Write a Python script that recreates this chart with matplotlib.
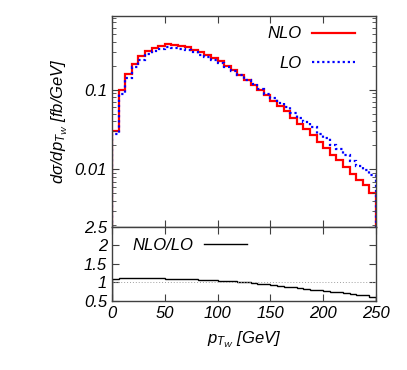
import matplotlib
matplotlib.use("Agg")
import matplotlib.pyplot as plt
import numpy as np
from matplotlib.ticker import LogLocator, NullFormatter

plt.rcParams['font.family'] = ['Liberation Sans', 'DejaVu Sans']
plt.rcParams['font.style'] = 'italic'
plt.rcParams['mathtext.fontset'] = 'custom'
plt.rcParams['mathtext.rm'] = 'Liberation Sans:italic'
plt.rcParams['mathtext.it'] = 'Liberation Sans:italic'
plt.rcParams['mathtext.sf'] = 'Liberation Sans:italic'

# bin edges of p_TW in GeV (40 bins of 6.25)
edges = np.linspace(0, 250, 41)

# d sigma / d p_TW  [fb/GeV]
nlo = [0.0307, 0.098, 0.158, 0.213, 0.264, 0.310, 0.338, 0.358, 0.373, 0.365,
       0.355, 0.342, 0.319, 0.296, 0.274, 0.253, 0.230, 0.201, 0.178, 0.154,
       0.132, 0.1155, 0.099, 0.0849, 0.0729, 0.0625, 0.0536, 0.0443, 0.0376, 0.0323,
       0.0274, 0.0222, 0.0187, 0.0154, 0.0130, 0.0107, 0.00883, 0.00743, 0.00637, 0.00506]
lo = [0.0282, 0.0883, 0.141, 0.190, 0.236, 0.278, 0.305, 0.323, 0.339, 0.332,
      0.326, 0.315, 0.295, 0.275, 0.256, 0.239, 0.219, 0.193, 0.173, 0.152,
      0.132, 0.1167, 0.102, 0.0894, 0.0784, 0.0687, 0.0602, 0.0509, 0.0442, 0.0389,
      0.0338, 0.0281, 0.0246, 0.0205, 0.0178, 0.0151, 0.0128, 0.0111, 0.0098, 0.00843]

nlo = np.array(nlo)
lo = np.array(lo)
ratio = nlo / lo

frame = '#404040'
fs = 12

fig = plt.figure(figsize=(4.07, 3.70), dpi=100)
ax1 = fig.add_axes([0.2752, 0.3865, 0.6486, 0.5703])
ax2 = fig.add_axes([0.2752, 0.1865, 0.6486, 0.2])

# top panel
h_nlo = ax1.stairs(nlo, edges, baseline=1e-5, color='#ff0000', lw=1.6, label='NLO')
h_lo = ax1.stairs(lo, edges, baseline=1e-5, color='#0000ff', lw=1.6,
                  linestyle=(0, (1, 1.3)), label='LO')
ax1.set_yscale('log')
ax1.set_xlim(0, 250)
ax1.set_ylim(0.0019, 0.84)
ax1.set_yticks([0.01, 0.1], labels=['0.01', '0.1'])
ax1.yaxis.set_minor_locator(LogLocator(base=10, subs=np.arange(2, 10)))
ax1.yaxis.set_minor_formatter(NullFormatter())
ax1.set_xticks([0, 50, 100, 150, 200, 250])
ax1.tick_params(labelbottom=False)
ax1.set_ylabel(r'$d\sigma/dp_{T_W}$ [fb/GeV]', fontsize=fs)
ax1.yaxis.set_label_coords(-0.16, 0.5)

leg1 = ax1.legend(handles=[h_nlo], loc='center right', bbox_to_anchor=(0.92, 0.915),
                  frameon=False, markerfirst=False, fontsize=fs, handlelength=2.6,
                  handletextpad=0.6, borderpad=0, borderaxespad=0)
ax1.add_artist(leg1)
ax1.legend(handles=[h_lo], loc='center right', bbox_to_anchor=(0.92, 0.777),
           frameon=False, markerfirst=False, fontsize=fs, handlelength=2.6,
           handletextpad=0.6, borderpad=0, borderaxespad=0)

# ratio panel
ax2.axhline(1.0, color='#a0a0a0', lw=0.7, linestyle=(0, (1, 2)))
h_r = ax2.stairs(ratio, edges, color='black', lw=1.0, label='NLO/LO')
ax2.set_xlim(0, 250)
ax2.set_ylim(0.5, 2.5)
ax2.set_yticks([0.5, 1, 1.5, 2, 2.5], labels=['0.5', '1', '1.5', '2', '2.5'])
ax2.set_xticks([0, 50, 100, 150, 200, 250])
ax2.set_xlabel(r'$p_{T_W}$ [GeV]', fontsize=fs)
ax2.xaxis.set_label_coords(0.5, -0.39)
ax2.legend(handles=[h_r], loc='center right', bbox_to_anchor=(0.511, 0.747),
           frameon=False, markerfirst=False, fontsize=fs, handlelength=2.6,
           handletextpad=0.6, borderpad=0, borderaxespad=0)

for ax in (ax1, ax2):
    for s in ax.spines.values():
        s.set_color(frame)
        s.set_linewidth(1.0)
    ax.tick_params(which='both', direction='in', top=True, right=True,
                   color=frame, labelsize=fs)
    ax.tick_params(which='major', length=5)
    ax.tick_params(which='minor', length=3)

fig.savefig('out.png', dpi=100)
